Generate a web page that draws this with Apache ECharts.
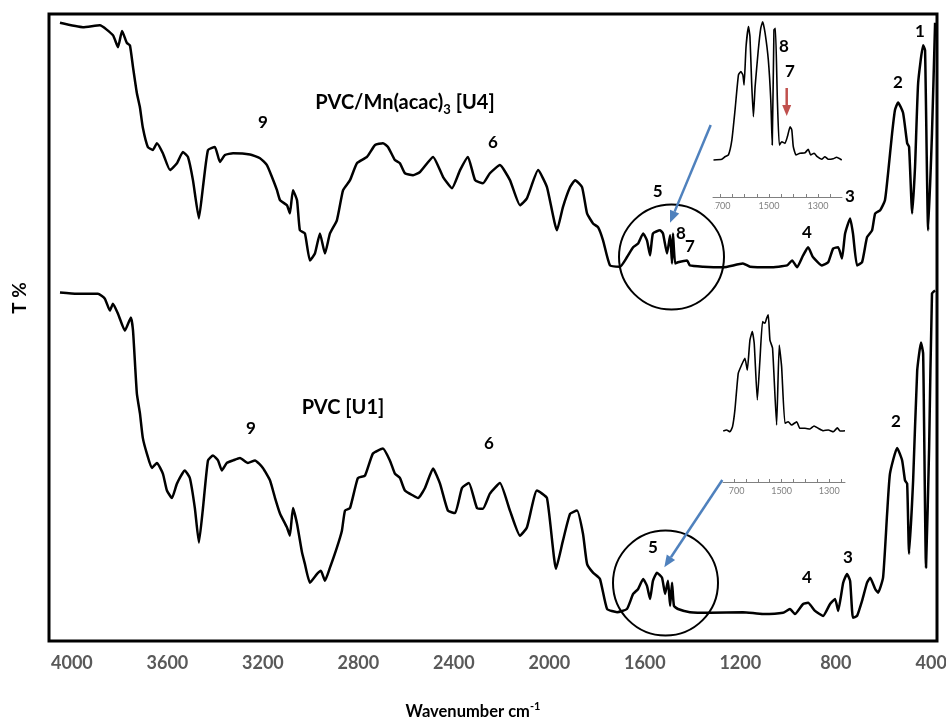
<!DOCTYPE html>
<html>
<head>
<meta charset="utf-8">
<title>FTIR spectra of PVC films</title>
<script src="https://cdn.jsdelivr.net/npm/echarts@6/dist/echarts.min.js"></script>
<style>
  html, body { margin: 0; padding: 0; background: #fff; }
  #chart { width: 946px; height: 720px; }
</style>
</head>
<body>
<div id="chart"></div>
<script>
// Wavenumber tick labels (cm-1) for the main axis and the two zoom insets
const xTickLabels = [4000, 3600, 3200, 2800, 2400, 2000, 1600, 1200, 800, 400];
const insetTickLabels = [1700, 1500, 1300];
const insetTicks = [1250, 1300, 1350, 1400, 1450, 1500, 1550, 1600, 1650, 1700];

// PVC/Mn(acac)3 [U4] film: wavenumber (cm-1) and relative transmittance
const u4Wavenumber = [4050,3954,3883,3828,3807,3790,3770,3757,3744,3728,
  3715,3703,3682,3661,3644,3619,3589,3560,3535,3514,
  3493,3468,3451,3430,3401,3380,3359,3325,3254,3212,
  3183,3162,3141,3128,3099,3087,3074,3057,3045,3024,
  3003,2982,2961,2940,2919,2890,2864,2835,2806,2764,
  2730,2697,2676,2647,2626,2605,2571,2542,2487,2445,
  2408,2374,2341,2311,2278,2249,2207,2165,2123,2094,
  2047,2010,1968,1943,1913,1892,1863,1842,1817,1796,
  1775,1746,1704,1675,1649,1628,1607,1591,1578,1566,
  1536,1524,1507,1494,1486,1482,1473,1461,1423,1411,
  1356,1272,1189,1159,1075,1004,983,962,937,916,
  895,858,832,811,790,774,761,740,728,711,
  690,669,648,635,614,594,581,564,552,539,
  518,501,493,480,468,455,434,426,413,397,384];
const u4Transmittance = [98.6,97.9,98.2,96.6,94.7,97.3,95.4,95.0,91.5,87.4,
  85.1,81.9,78.8,78.3,79.4,77.8,75.1,76.2,78.0,77.2,
  73.5,67.4,72.4,78.3,78.8,76.4,77.5,77.8,77.6,77.0,
  75.9,74.0,71.9,70.3,69.5,68.2,71.9,70.3,65.5,65.0,
  60.7,61.8,65.0,61.8,65.0,67.1,71.9,73.5,76.2,77.2,
  79.1,79.4,78.8,76.7,76.2,74.6,74.3,74.8,77.2,74.0,
  72.2,75.1,77.2,73.5,73.0,74.6,75.9,73.5,69.5,70.6,
  75.1,72.4,65.5,69.2,72.4,73.5,72.4,68.2,66.6,66.0,
  63.9,59.9,59.7,61.2,62.8,63.4,65.0,63.9,61.5,65.0,
  65.5,65.0,61.8,64.7,60.2,65.0,60.2,60.4,60.7,59.9,
  59.7,59.6,60.2,59.7,59.6,59.9,60.7,59.6,61.5,62.8,
  61.2,59.9,60.4,62.6,62.8,61.0,65.0,67.4,65.0,59.9,
  60.4,64.4,65.5,68.2,68.7,70.3,74.6,81.0,84.7,85.9,
  84.2,79.4,78.8,68.2,75.6,89.0,95.0,94.2,65.5,81.0,98.6];

// PVC [U1] film
const u1Wavenumber = [4050,3979,3891,3862,3841,3828,3807,3778,3753,3744,
  3728,3715,3703,3686,3665,3644,3619,3602,3581,3560,
  3527,3506,3485,3468,3451,3430,3409,3388,3372,3351,
  3325,3296,3263,3233,3200,3170,3149,3128,3099,3087,
  3074,3057,3036,3024,3003,2973,2957,2940,2919,2890,
  2869,2856,2835,2802,2772,2739,2697,2668,2647,2626,
  2605,2571,2550,2521,2487,2458,2425,2395,2366,2337,
  2303,2278,2249,2207,2165,2123,2094,2052,2010,1972,
  1943,1913,1884,1859,1842,1817,1788,1758,1716,1675,
  1649,1628,1607,1591,1578,1566,1549,1528,1515,1503,
  1494,1486,1478,1461,1411,1327,1189,1105,1021,992,
  971,937,916,887,853,824,803,790,769,753,
  740,728,711,690,669,656,635,623,602,585,
  573,543,522,510,501,493,476,459,443,434,
  422,409,397,384];
const u1Transmittance = [55.6,55.4,55.4,54.6,52.7,53.8,52.2,49.5,51.6,49.5,
  39.5,36.3,32.4,29.9,27.6,28.4,26.7,24.0,22.8,25.1,
  27.2,26.0,21.2,15.7,21.2,28.8,29.6,28.8,27.2,28.4,
  28.8,29.2,28.4,28.8,27.6,25.6,22.8,20.3,18.1,16.8,
  21.2,18.7,14.1,12.3,9.3,10.7,11.2,9.6,11.7,14.9,
  17.6,20.8,21.2,26.0,26.4,29.9,30.7,28.8,26.7,26.0,
  24.0,23.2,22.8,24.4,27.5,25.1,20.8,20.4,24.4,25.2,
  21.2,21.1,23.5,25.2,20.8,16.8,18.1,24.0,22.8,11.5,
  16.0,20.3,20.8,17.1,12.3,10.9,9.9,5.1,4.6,5.1,
  7.5,8.3,9.9,8.8,6.7,9.6,10.9,10.1,7.5,9.6,
  5.6,9.3,5.6,5.1,4.6,4.5,4.6,4.3,4.5,5.1,
  4.3,5.9,6.1,4.8,4.0,5.9,6.7,4.8,9.3,10.7,
  9.6,3.7,4.0,6.4,9.3,10.1,8.3,7.7,10.1,20.3,
  26.7,30.8,28.8,25.6,25.1,13.9,25.6,43.1,47.6,45.8,
  11.7,30.8,55.4,55.9];

// Expanded 1750-1200 cm-1 region, U4 film
const insetU4Wavenumber = [1727,1693,1680,1666,1652,1639,1625,1615,1607,1602,
  1594,1584,1578,1571,1564,1557,1544,1534,1526,1516,
  1503,1493,1487,1480,1474,1466,1458,1448,1435,1425,
  1414,1407,1401,1390,1374,1353,1340,1330,1316,1303,
  1285,1272,1258,1238,1224,1203];
const insetU4Transmittance = [20.2,20.6,22.0,23.0,31.1,47.5,66.7,68.5,66.7,61.2,
  82.1,93.1,87.6,62.1,43.9,60.3,80.3,92.2,95.8,89.4,
  74.9,53.0,28.4,91.3,92.2,53.0,28.4,30.2,29.3,33.0,
  38.4,36.6,27.5,23.0,23.9,24.2,26.1,23.0,23.9,22.0,
  20.6,22.0,20.6,20.9,21.7,20.2];

// Expanded 1750-1200 cm-1 region, U1 film
const insetU1Wavenumber = [1745,1731,1717,1706,1696,1682,1668,1654,1644,1633,
  1623,1615,1602,1591,1580,1570,1563,1556,1549,1538,
  1521,1510,1500,1486,1472,1458,1437,1423,1402,1381,
  1364,1346,1325,1304,1283,1266,1255,1234];
const insetU1Transmittance = [28.0,28.6,27.6,30.4,39.6,59.7,64.3,68.0,61.5,78.0,
  82.6,76.2,45.1,67.0,88.1,87.2,89.9,91.8,78.0,73.5,
  31.3,75.3,63.4,32.3,33.1,31.3,33.1,29.5,29.5,29.1,
  30.8,29.5,28.2,28.6,27.6,29.8,28.0,28.2];

const FONT = 'Lato, "Open Sans", "Liberation Sans", sans-serif';
const BLUE = '#4f81bd';
const RED = '#c0504d';
const pairs = (xs, ys) => xs.map((x, i) => [x, ys[i]]);
const plain = (v) => String(v);

function spectrum(name, xs, ys, axisIndex, width) {
  return {
    name: name,
    type: 'line',
    xAxisIndex: axisIndex,
    yAxisIndex: axisIndex,
    data: pairs(xs, ys),
    symbol: 'none',
    smooth: 0.15,
    lineStyle: { color: '#000', width: width },
    z: 3
  };
}

function insetXAxis(grid, min, max) {
  return {
    gridIndex: grid, type: 'value', inverse: true, min: min, max: max,
    axisLine: { show: true, lineStyle: { color: '#808080', width: 1 } },
    axisTick: { show: true, customValues: insetTicks, inside: true, length: 3,
      lineStyle: { color: '#808080', width: 1 } },
    axisLabel: { customValues: insetTickLabels, formatter: plain, color: '#808080', fontSize: 9,
      fontFamily: FONT, margin: 5 },
    splitLine: { show: false }
  };
}

function label(text, x, y, size, weight) {
  return {
    type: 'text', z: 20,
    style: { text: text, x: x, y: y, align: 'center', verticalAlign: 'middle',
      fontSize: size || 17, fontWeight: weight || 'bold', fontFamily: FONT, fill: '#000' }
  };
}

function arrow(x1, y1, x2, y2, color, width, headLen, headHalf) {
  const dx = x2 - x1, dy = y2 - y1, len = Math.hypot(dx, dy);
  const ux = dx / len, uy = dy / len;
  const bx = x2 - ux * headLen, by = y2 - uy * headLen;
  return [
    { type: 'line', z: 15, shape: { x1: x1, y1: y1, x2: bx, y2: by },
      style: { stroke: color, lineWidth: width } },
    { type: 'polygon', z: 15,
      shape: { points: [[x2, y2], [bx - uy * headHalf, by + ux * headHalf], [bx + uy * headHalf, by - ux * headHalf]] },
      style: { fill: color } }
  ];
}

const chart = echarts.init(document.getElementById('chart'));

chart.setOption({
  backgroundColor: '#fff',
  animation: false,
  grid: [
    { left: 49, right: 9, top: 14, bottom: 79, show: true, borderColor: '#000', borderWidth: 3,
      containLabel: false, outerBoundsMode: 'none' },
    { left: 713, width: 129, top: 14, height: 183, containLabel: false, outerBoundsMode: 'none' },
    { left: 723, width: 122, top: 300, height: 182, containLabel: false, outerBoundsMode: 'none' }
  ],
  xAxis: [
    {
      gridIndex: 0, type: 'value', inverse: true, min: 376, max: 4096,
      axisLine: { show: false }, axisTick: { show: false }, splitLine: { show: false },
      axisLabel: { customValues: xTickLabels, formatter: plain, color: '#595959', fontSize: 18,
        fontWeight: 'bold', fontFamily: FONT, margin: 13, showMinLabel: true, showMaxLabel: true,
        hideOverlap: false }
    },
    insetXAxis(1, 1202, 1729),
    insetXAxis(2, 1234, 1746)
  ],
  yAxis: [
    { gridIndex: 0, type: 'value', min: 0, max: 100, show: false },
    { gridIndex: 1, type: 'value', min: 0, max: 100, show: false },
    { gridIndex: 2, type: 'value', min: 0, max: 100, show: false }
  ],
  series: [
    spectrum('PVC/Mn(acac)3 [U4]', u4Wavenumber, u4Transmittance, 0, 2.5),
    spectrum('PVC [U1]', u1Wavenumber, u1Transmittance, 0, 2.5),
    spectrum('U4 1750-1200', insetU4Wavenumber, insetU4Transmittance, 1, 1.6),
    spectrum('U1 1750-1200', insetU1Wavenumber, insetU1Transmittance, 2, 1.6)
  ],
  graphic: [
    // inset axes are cut off on their left side
    { type: 'rect', z: 8, shape: { x: 700, y: 200, width: 14, height: 16 }, style: { fill: '#fff' } },
    { type: 'rect', z: 8, shape: { x: 708, y: 487, width: 20, height: 16 }, style: { fill: '#fff' } },

    // circles around the 1600-1450 cm-1 region
    { type: 'circle', z: 12, shape: { cx: 671.5, cy: 257, r: 52.5 },
      style: { fill: 'none', stroke: '#000', lineWidth: 2 } },
    { type: 'circle', z: 12, shape: { cx: 665.5, cy: 583, r: 52.5 },
      style: { fill: 'none', stroke: '#000', lineWidth: 2 } },

    ...arrow(710.7, 125, 670, 222.7, BLUE, 2.5, 12, 5),
    ...arrow(722.3, 480, 664.3, 567.3, BLUE, 2.5, 12, 5),
    ...arrow(786.7, 88, 786.7, 116, RED, 2.5, 11, 4.5),

    // sample names
    { type: 'text', z: 20,
      style: { x: 405, y: 103, align: 'center', verticalAlign: 'middle',
        text: '{m|PVC/Mn(acac)}{s|3}{m| [U4]}',
        rich: {
          m: { fontSize: 20, fontWeight: 'bold', fontFamily: FONT, fill: '#000', lineHeight: 26 },
          s: { fontSize: 13, fontWeight: 'bold', fontFamily: FONT, fill: '#000', lineHeight: 26, verticalAlign: 'bottom' }
        } } },
    label('PVC [U1]', 343, 408, 20, 'bold'),

    // band numbers, U4
    label('9', 263, 123),
    label('6', 493, 143),
    label('5', 657.7, 192),
    label('8', 681, 234),
    label('7', 690, 247),
    label('4', 807, 233),
    label('3', 850, 197),
    label('2', 898, 83),
    label('1', 920, 32),
    label('8', 784, 47),
    label('7', 790, 72),

    // band numbers, U1
    label('9', 251, 429),
    label('6', 489, 444),
    label('5', 653, 548),
    label('4', 807, 578),
    label('3', 848, 558),
    label('2', 896, 422),

    // axis titles
    { type: 'text', z: 20,
      style: { x: 473, y: 712, align: 'center', verticalAlign: 'middle',
        text: '{m|Wavenumber cm}{s|-1}',
        rich: {
          m: { fontSize: 16.5, fontWeight: 'bold', fontFamily: FONT, fill: '#000', lineHeight: 22 },
          s: { fontSize: 11, fontWeight: 'bold', fontFamily: FONT, fill: '#000', lineHeight: 22, verticalAlign: 'top' }
        } } },
    { type: 'text', z: 20, x: 20, y: 298, rotation: Math.PI / 2,
      style: { x: 0, y: 0, align: 'center', verticalAlign: 'middle', text: 'T %',
        fontSize: 19, fontWeight: 'bold', fontFamily: FONT, fill: '#000' } }
  ]
});
</script>
</body>
</html>
